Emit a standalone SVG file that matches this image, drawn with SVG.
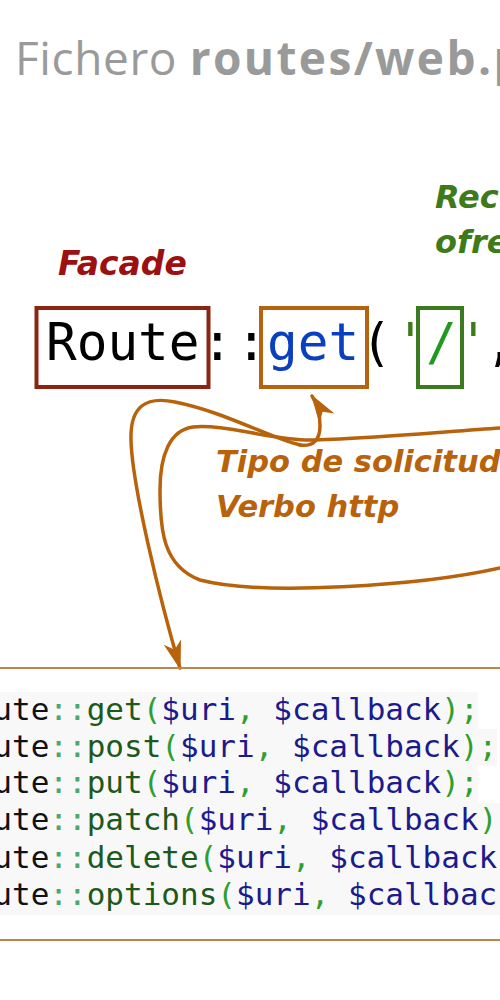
<svg xmlns="http://www.w3.org/2000/svg" width="500" height="1000" viewBox="0 0 500 1000">
<style>
.title{font-family:"Open Sans","DejaVu Sans",sans-serif;font-size:46px;fill:#9a9a9a}
.lbl{font-family:"DejaVu Sans",sans-serif;font-weight:bold;font-style:oblique}
.mono{font-family:"DejaVu Sans Mono","Liberation Mono",monospace}
.big{font-size:51px}
.code{font-size:31px}
.cls{fill:#111111}
.op{fill:#4aa86a}
.fn{fill:#1c5a1c}
.pn{fill:#2e9e2e}
.var{fill:#1b1b8e}
.bg{fill:#f8f8f8}
.conn{fill:none;stroke:#b8620c;stroke-width:3.5;stroke-linecap:round}
.rule{stroke:#c0844c;stroke-width:2.2}
</style>
<defs>
<marker id="ah" markerUnits="userSpaceOnUse" markerWidth="40" markerHeight="30" viewBox="-30 -15 40 30" refX="0" refY="0" orient="auto">
<path d="M2,0 L-27,-9 L-19,0 L-27,9 Z" fill="#b8620c"/>
</marker>
</defs>
<rect width="500" height="1000" fill="#ffffff"/>
<g id="title">
<text class="title" x="15" y="75" letter-spacing="0.6">Fichero <tspan font-weight="bold" letter-spacing="2.4">routes/web.php</tspan></text>
</g>
<g id="facade-label">
<text class="lbl" x="58" y="275" font-size="33" fill="#9b1010">Facade</text>
</g>
<g id="recurso-label">
<text class="lbl" x="435" y="208" font-size="32" fill="#3f7a1a">Rec</text>
<text class="lbl" x="435" y="253" font-size="32" fill="#3f7a1a">ofre</text>
</g>
<g id="route-box">
<rect x="36.5" y="308" width="172" height="79" fill="#ffffff" stroke="#8b2512" stroke-width="4"/>
<text class="mono big" x="46" y="360" fill="#000000">Route</text>
</g>
<g id="colons">
<text class="mono big" x="202" y="360" fill="#000000">:</text>
<text class="mono big" x="236" y="360" fill="#000000">:</text>
</g>
<g id="get-box">
<rect x="261" y="308" width="106" height="79" fill="#ffffff" stroke="#b5630e" stroke-width="4"/>
<text class="mono big" x="267" y="360" fill="#0a3fbf">get</text>
</g>
<g id="args">
<text class="mono big" x="361" y="360" fill="#000000">(</text>
<text class="mono big" x="395" y="360" fill="#3f7a1a">'</text>
<text class="mono big" x="458" y="360" fill="#3f7a1a">'</text>
<text class="mono big" x="485" y="360" fill="#000000">,</text>
</g>
<g id="uri-box">
<rect x="418" y="308" width="44" height="79" fill="#ffffff" stroke="#3b7a1f" stroke-width="4"/>
<text class="mono big" x="426" y="360" fill="#1e9a1e">/</text>
</g>
<g id="verbo-label">
<text class="lbl" x="216" y="472" font-size="30.5" fill="#b8620c">Tipo de solicitud</text>
<text class="lbl" x="216" y="517" font-size="30.5" fill="#b8620c">Verbo http</text>
</g>
<g id="connectors">
<path class="conn" d="M500,428 C440,432 350,440 305,440 C265,438 222,424 193,427 C170,430 160,455 160,490 C160,530 163,566 200,580 C260,596 420,586 500,568"/>
<path class="conn" d="M300,445 C313,447 320,440 320,426 C320,412 316,402 312,396" marker-end="url(#ah)"/>
<path class="conn" d="M300,445 C270,438 225,412 175,402 C146,396 130,406 131,440 C132,485 160,600 180,668" marker-end="url(#ah)"/>
</g>
<g id="code-block">
<line class="rule" x1="0" y1="668" x2="500" y2="668"/>
<line class="rule" x1="0" y1="940" x2="500" y2="940"/>
<rect class="bg" x="0" y="692" width="478" height="37"/>
<rect class="bg" x="0" y="729" width="497" height="37"/>
<rect class="bg" x="0" y="766" width="478" height="37"/>
<rect class="bg" x="0" y="803" width="500" height="112"/>
<text class="mono code" x="-44" y="720"><tspan class="cls">Route</tspan><tspan class="op">::</tspan><tspan class="fn">get</tspan><tspan class="pn">(</tspan><tspan class="var">$uri</tspan><tspan class="pn">, </tspan><tspan class="var">$callback</tspan><tspan class="pn">);</tspan></text>
<text class="mono code" x="-44" y="757"><tspan class="cls">Route</tspan><tspan class="op">::</tspan><tspan class="fn">post</tspan><tspan class="pn">(</tspan><tspan class="var">$uri</tspan><tspan class="pn">, </tspan><tspan class="var">$callback</tspan><tspan class="pn">);</tspan></text>
<text class="mono code" x="-44" y="793"><tspan class="cls">Route</tspan><tspan class="op">::</tspan><tspan class="fn">put</tspan><tspan class="pn">(</tspan><tspan class="var">$uri</tspan><tspan class="pn">, </tspan><tspan class="var">$callback</tspan><tspan class="pn">);</tspan></text>
<text class="mono code" x="-44" y="830"><tspan class="cls">Route</tspan><tspan class="op">::</tspan><tspan class="fn">patch</tspan><tspan class="pn">(</tspan><tspan class="var">$uri</tspan><tspan class="pn">, </tspan><tspan class="var">$callback</tspan><tspan class="pn">);</tspan></text>
<text class="mono code" x="-44" y="868"><tspan class="cls">Route</tspan><tspan class="op">::</tspan><tspan class="fn">delete</tspan><tspan class="pn">(</tspan><tspan class="var">$uri</tspan><tspan class="pn">, </tspan><tspan class="var">$callback</tspan><tspan class="pn">);</tspan></text>
<text class="mono code" x="-44" y="905"><tspan class="cls">Route</tspan><tspan class="op">::</tspan><tspan class="fn">options</tspan><tspan class="pn">(</tspan><tspan class="var">$uri</tspan><tspan class="pn">, </tspan><tspan class="var">$callback</tspan><tspan class="pn">);</tspan></text>
</g>
</svg>
